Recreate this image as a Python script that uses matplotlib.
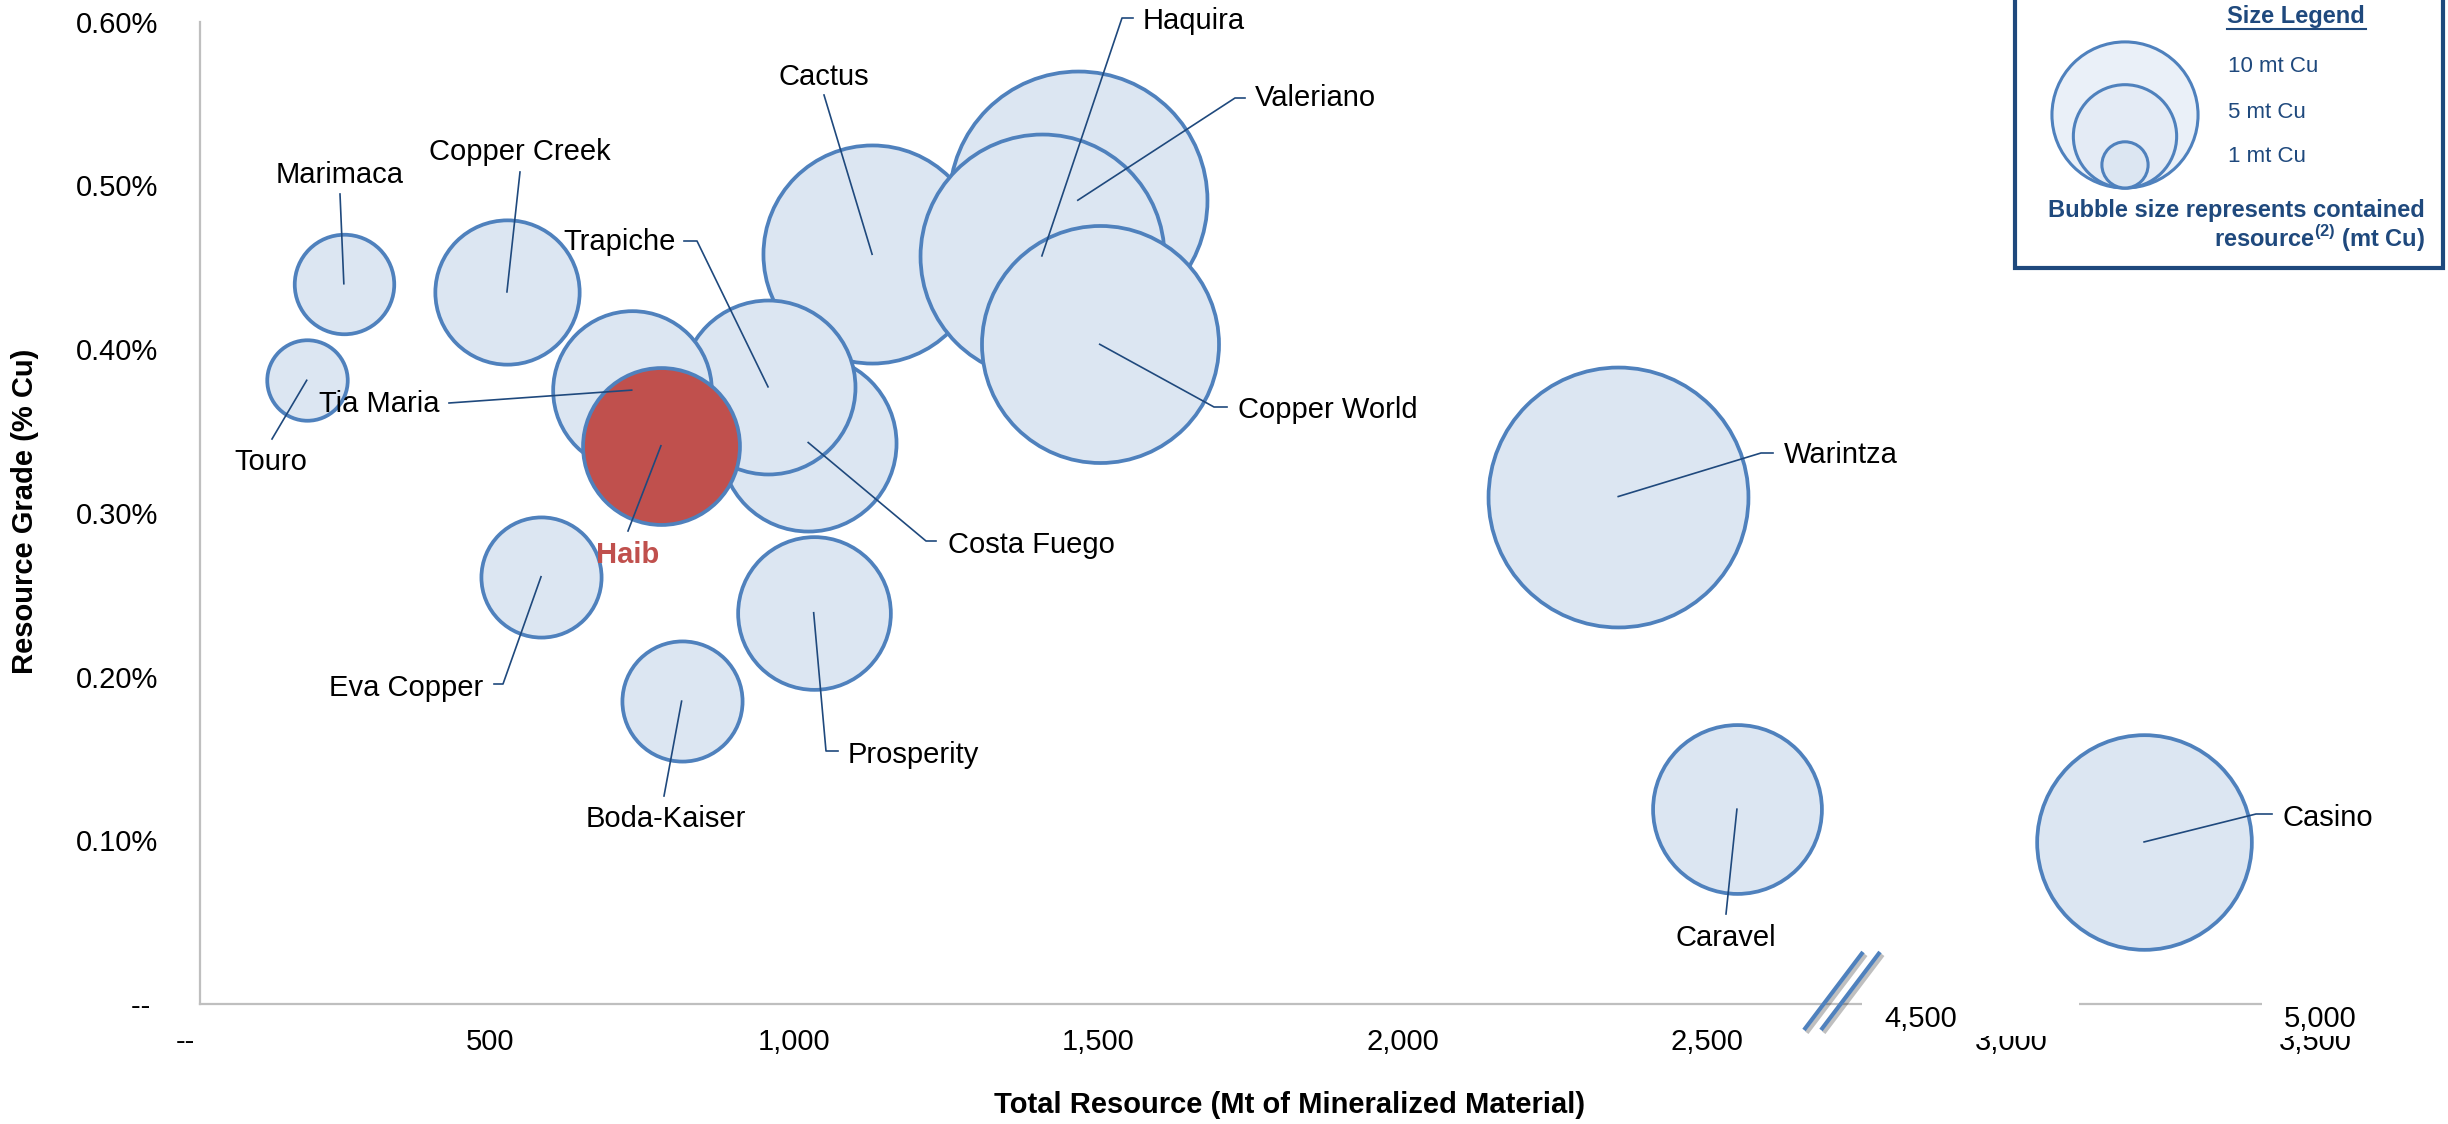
"""
Copper project peer comparison: resource grade vs total resource,
bubble size = contained copper. Saves out.png.
"""
import matplotlib
matplotlib.use("Agg")  # headless
import matplotlib.pyplot as plt
import matplotlib.patheffects as pe
from matplotlib.patches import Circle, Rectangle

W, H = 2448, 1124

# deposits in draw order (later ones sit on top of earlier ones)
DEPOSITS = ["Marimaca", "Touro", "Copper Creek", "Eva Copper", "Boda-Kaiser",
            "Prosperity", "Cactus", "Valeriano", "Haquira", "Copper World",
            "Costa Fuego", "Trapiche", "Tia Maria", "Haib", "Warintza",
            "Caravel", "Casino"]
# total resource (Mt); Casino sits past the axis break, so this is its spot on the broken axis
TONNAGE = [260, 199, 528, 584, 815, 1032, 1128, 1466, 1407, 1502,
           1023, 957, 733, 781, 2354, 2549, 3218]
GRADE = [0.440, 0.381, 0.435, 0.261, 0.185, 0.239, 0.458, 0.491, 0.457, 0.403,
         0.343, 0.377, 0.375, 0.341, 0.310, 0.119, 0.099]  # % Cu
CONTAINED_CU = [1.07, 0.70, 2.25, 1.56, 1.56, 2.52, 5.14, 7.19, 6.43, 6.07,
                3.35, 3.27, 2.72, 2.66, 7.30, 3.08, 4.98]  # mt Cu
HIGHLIGHT = "Haib"

LEGEND_CU = [10, 5, 1]
LEGEND_TEXT = ["10 mt Cu", "5 mt Cu", "1 mt Cu"]

X_TICKS = [0, 500, 1000, 1500, 2000, 2500, 3000, 3500]
X_TICK_LABELS = ["--", "500", "1,000", "1,500", "2,000", "2,500", "3,000", "3,500"]
BREAK_LABELS = ["4,500", "5,000"]
Y_TICKS = [0.0, 0.1, 0.2, 0.3, 0.4, 0.5, 0.6]
Y_TICK_LABELS = ["-- ", "0.10%", "0.20%", "0.30%", "0.40%", "0.50%", "0.60%"]

# label placement in image pixels: (label centre, leader points towards the bubble)
LABELS = {
    "Marimaca": ((340, 175), [(340, 194)]),
    "Copper Creek": ((520, 152), [(520, 172)]),
    "Touro": ((271, 462), [(272, 439)]),
    "Tia Maria": ((379, 404), [(449, 403)]),
    "Trapiche": ((620, 242), [(684, 241), (697, 241)]),
    "Haib": ((628, 555), [(628, 531)]),
    "Cactus": ((824, 77), [(824, 95)]),
    "Haquira": ((1194, 21), [(1133, 18), (1122, 18)]),
    "Valeriano": ((1315, 98), [(1245, 98), (1235, 98)]),
    "Copper World": ((1328, 410), [(1227, 407), (1214, 407)]),
    "Costa Fuego": ((1031, 545), [(936, 541), (926, 541)]),
    "Eva Copper": ((406, 688), [(494, 684), (503, 684)]),
    "Boda-Kaiser": ((666, 819), [(664, 796)]),
    "Prosperity": ((913, 755), [(838, 751), (826, 751)]),
    "Warintza": ((1841, 455), [(1773, 453), (1761, 453)]),
    "Caravel": ((1726, 938), [(1726, 914)]),
    "Casino": ((2328, 818), [(2272, 814), (2256, 814)]),
}

FILL = "#DCE6F2"
EDGE = "#4F81BD"
RED = "#C0504D"
NAVY = "#1F497D"
AXIS = "#BFBFBF"

plt.rcParams["font.family"] = ["Liberation Sans", "DejaVu Sans"]
plt.rcParams["mathtext.fontset"] = "custom"
plt.rcParams["mathtext.rm"] = "Liberation Sans"
plt.rcParams["mathtext.bf"] = "Liberation Sans:bold"

fig = plt.figure(figsize=(W / 100, H / 100), dpi=100)
x0, x1, y0, y1 = 185.6, 2315.7, 1004.0, 21.8  # pixel positions of the axis limits
ax = fig.add_axes([x0 / W, (H - y0) / H, (x1 - x0) / W, (y0 - y1) / H])
ax.set_xlim(0, 3500)
ax.set_ylim(0, 0.6)

# bubbles: area proportional to contained copper
px_per_sqrt_mt = 48.1
for name, t, g, cu in zip(DEPOSITS, TONNAGE, GRADE, CONTAINED_CU):
    d_pt = 2 * px_per_sqrt_mt * cu ** 0.5 * 0.72
    ax.scatter([t], [g], s=d_pt ** 2, facecolor=RED if name == HIGHLIGHT else FILL,
               edgecolor=EDGE, linewidth=2.7, clip_on=False, zorder=3)

for side in ["top", "right"]:
    ax.spines[side].set_visible(False)
ax.spines["left"].set_position(("data", 23.7))
ax.spines["left"].set_bounds(0, 0.6)
ax.spines["bottom"].set_bounds(23.7, 3500)
for side in ["left", "bottom"]:
    ax.spines[side].set_color(AXIS)
    ax.spines[side].set_linewidth(1.6)

ax.set_xticks(X_TICKS)
ax.set_xticklabels(X_TICK_LABELS)
ax.set_yticks(Y_TICKS)
ax.set_yticklabels(Y_TICK_LABELS)
ax.tick_params(axis="x", length=0, pad=17, labelsize=21)
ax.tick_params(axis="y", length=0, pad=30, labelsize=21)

# overlay in image pixels for labels, leaders, break and size legend
ov = fig.add_axes([0, 0, 1, 1])
ov.set_xlim(0, W)
ov.set_ylim(H, 0)
ov.axis("off")

for name, t, g in zip(DEPOSITS, TONNAGE, GRADE):
    (lx, ly), pts = LABELS[name]
    cx, cy = ax.transData.transform((t, g))
    xs = [p[0] for p in pts] + [cx]
    ys = [p[1] for p in pts] + [H - cy]
    ov.plot(xs, ys, color=NAVY, lw=1.2, zorder=4)
    if name == HIGHLIGHT:
        ov.text(lx, ly, name, ha="center", va="center", fontsize=21,
                color=RED, weight="bold")
    else:
        ov.text(lx, ly, name, ha="center", va="center", fontsize=21, color="black")

# axis break: white boxes over the real ticks, then the substitute labels
ov.add_patch(Rectangle((1862, 996), 217, 40, facecolor="white", edgecolor="none", zorder=5))
ov.add_patch(Rectangle((2262, 996), 150, 40, facecolor="white", edgecolor="none", zorder=5))
for (bx, by), lab in zip([(1921, 1019), (2320, 1019)], BREAK_LABELS):
    ov.text(bx, by, lab, ha="center", va="center", fontsize=21, zorder=6)
shadow = [pe.SimpleLineShadow(offset=(2, -2), alpha=0.25), pe.Normal()]
for dx in [0, 17]:
    ov.plot([1804 + dx, 1863 + dx], [1030, 952], color=EDGE, lw=3,
            solid_capstyle="butt", path_effects=shadow, zorder=7)

ov.text(1290, 1105, "Total Resource (Mt of Mineralized Material)", ha="center",
        va="center", fontsize=21, weight="bold")
ov.text(25, 511, "Resource Grade (% Cu)", ha="center", va="center", rotation=90,
        fontsize=21, weight="bold")

# size legend box
ov.add_patch(Rectangle((2015, -10), 428, 278, facecolor="white", edgecolor=NAVY,
                       linewidth=3, zorder=8))
ov.text(2296, 17, "Size Legend", ha="center", va="center", fontsize=17,
        weight="bold", color=NAVY, zorder=9)
ov.plot([2227, 2366], [29, 29], color=NAVY, lw=1.5, zorder=9)
legend_fill = ["#EAF0F8", "#E4EBF5", "#DCE6F2"]
base_y = 188
for cu, fc in zip(LEGEND_CU, legend_fill):
    r = 23.1 * cu ** 0.5
    ov.add_patch(Circle((2125, base_y - r), r, facecolor=fc, edgecolor=EDGE,
                        linewidth=2.2, zorder=9))
for ty, lab in zip([67, 112, 157], LEGEND_TEXT):
    ov.text(2228, ty, lab, ha="left", va="center", fontsize=16, color=NAVY, zorder=9)
ov.text(2425, 211, "Bubble size represents contained", ha="right", va="center",
        fontsize=17, weight="bold", color=NAVY, zorder=9)
ov.text(2425, 238, r"resource$^{\mathbf{(2)}}$ (mt Cu)", ha="right", va="center",
        fontsize=17, weight="bold", color=NAVY, zorder=9)

fig.savefig("out.png", dpi=100)
plt.close(fig)
